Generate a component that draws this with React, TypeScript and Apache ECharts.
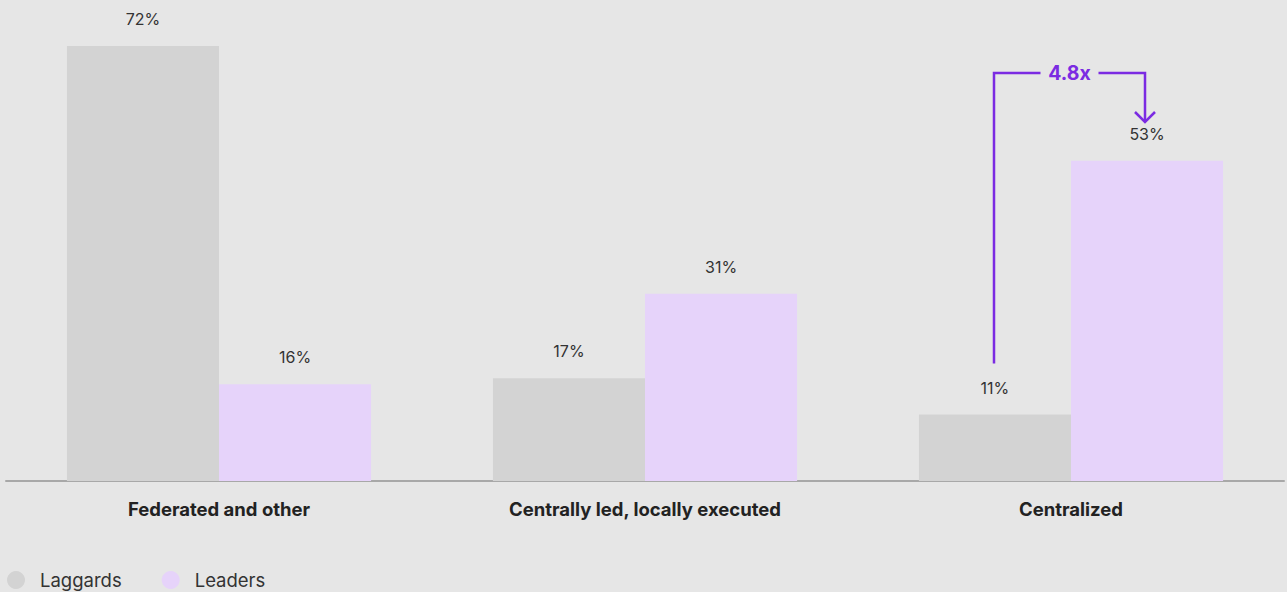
import React, { useEffect, useRef } from "react";
import * as echarts from "echarts";

const categories = ["Federated and other", "Centrally led, locally executed", "Centralized"];
const laggards = [72, 17, 11];
const leaders = [16, 31, 53];
const seriesNames = ["Laggards", "Leaders"];
const multiplierLabel = "4.8x";

const BG = "#e6e6e6";
const LAG = "#d3d3d3";
const LEAD = "#e6d3fa";
const PURPLE = "#7b2be2";
const FONT = "Inter, 'Noto Sans', sans-serif";

export default function App() {
  const ref = useRef<HTMLDivElement>(null);
  useEffect(() => {
    document.body.style.margin = "0";
    const chart = echarts.init(ref.current!, null, { renderer: "svg" });
    const labelCfg = {
      show: true,
      position: "top" as const,
      distance: 19,
      formatter: "{c}%",
      fontSize: 16,
      color: "#333",
      fontFamily: FONT,
    };
    chart.setOption({
      animation: false,
      backgroundColor: BG,
      textStyle: { fontFamily: FONT },
      grid: { left: 6, right: 3, top: 46, bottom: 111, containLabel: false },
      legend: {
        left: 7,
        top: 570,
        padding: 0,
        icon: "circle",
        itemWidth: 18,
        itemHeight: 18,
        itemGap: 40,
        textStyle: { fontSize: 18.5, lineHeight: 20, color: "#333", fontFamily: FONT, padding: [0, 0, 0, 10] },
        data: seriesNames,
      },
      xAxis: {
        type: "category",
        data: categories,
        axisLine: { show: true, lineStyle: { color: "#a8a8a8", width: 2 } },
        axisTick: { show: false },
        axisLabel: { fontSize: 18.5, fontWeight: "bold", color: "#222", margin: 18, fontFamily: FONT },
      },
      yAxis: { type: "value", min: 0, max: 72, show: false, splitLine: { show: false } },
      series: [
        {
          name: seriesNames[0],
          type: "bar",
          data: laggards,
          itemStyle: { color: LAG },
          barGap: "0%",
          barCategoryGap: "28.6%",
          label: labelCfg,
        },
        {
          name: seriesNames[1],
          type: "bar",
          data: leaders,
          itemStyle: { color: LEAD },
          barGap: "0%",
          barCategoryGap: "28.6%",
          label: labelCfg,
        },
      ],
    });

    // Annotation positioned from the chart's own scale
    const catIdx = 2;
    const center = chart.convertToPixel({ xAxisIndex: 0 }, catIdx) as number;
    const bandW = (chart.convertToPixel({ xAxisIndex: 0 }, 1) as number) - (chart.convertToPixel({ xAxisIndex: 0 }, 0) as number);
    const barW = bandW * (1 - 0.286) / 2;
    const xL = Math.round(center - barW / 2) - 1;
    const xR = Math.round(center + barW / 2) - 2;
    const yTop = 73;
    const yLow = (chart.convertToPixel({ yAxisIndex: 0 }, laggards[catIdx]) as number) - 51;
    const yArrow = 122;
    const textX = (xL + xR) / 2;
    const ls = { stroke: PURPLE, lineWidth: 2.5, fill: "none" };
    chart.setOption({
      graphic: [
        { type: "polyline", shape: { points: [[xL, yLow], [xL, yTop], [textX - 29, yTop]] }, style: ls, z: 10 },
        { type: "polyline", shape: { points: [[textX + 29, yTop], [xR, yTop], [xR, yArrow]] }, style: ls, z: 10 },
        { type: "polyline", shape: { points: [[xR - 10, yArrow - 10], [xR, yArrow], [xR + 10, yArrow - 10]] }, style: ls, z: 10 },
        {
          type: "text",
          x: textX,
          y: yTop,
          style: {
            text: multiplierLabel,
            fill: PURPLE,
            fontSize: 19.5,
            fontWeight: "bold",
            fontFamily: FONT,
            align: "center",
            verticalAlign: "middle",
          },
          z: 10,
        },
      ],
    });
    return () => chart.dispose();
  }, []);
  return <div ref={ref} style={{ width: 1287, height: 592, position: "fixed", left: 0, top: 0 }} />;
}
